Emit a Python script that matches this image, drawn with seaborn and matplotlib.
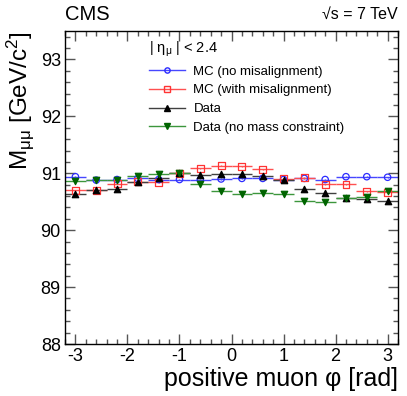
import numpy as np
import pandas as pd
import matplotlib
matplotlib.use('Agg')
import matplotlib.pyplot as plt
from matplotlib.lines import Line2D
from matplotlib.ticker import MultipleLocator
import seaborn as sns

# bin centres in phi (bins of 0.4 rad)
phi = [-3.0, -2.6, -2.2, -1.8, -1.4, -1.0, -0.6, -0.2,
       0.2, 0.6, 1.0, 1.4, 1.8, 2.2, 2.6, 3.0]
half_width = 0.2

mc_nomis = [90.94, 90.88, 90.89, 90.91, 90.89, 90.89, 90.89, 90.90,
            90.91, 90.91, 90.89, 90.91, 90.89, 90.94, 90.94, 90.93]
mc_mis = [90.70, 90.70, 90.82, 90.85, 90.84, 91.00, 91.09, 91.13,
          91.12, 91.07, 90.90, 90.92, 90.81, 90.81, 90.68, 90.67]
data = [90.63, 90.71, 90.73, 90.85, 90.91, 91.00, 90.97, 90.98,
        90.98, 90.96, 90.88, 90.72, 90.65, 90.57, 90.55, 90.51]
data_nomc = [90.87, 90.89, 90.88, 90.95, 90.99, 91.01, 90.82, 90.69,
             90.64, 90.66, 90.63, 90.51, 90.49, 90.56, 90.59, 90.68]

mc_err = 0.01
data_err = 0.02
data_nomc_err = 0.03

series = [
    ('MC (no misalignment)', mc_nomis, mc_err, '#4747ff', 'o', 'none', '#2b2bff', 4.6),
    ('MC (with misalignment)', mc_mis, mc_err, '#ff5050', 's', 'none', '#ff3333', 5.0),
    ('Data', data, data_err, '#404040', '^', '#000000', '#000000', 4.6),
    ('Data (no mass constraint)', data_nomc, data_nomc_err, '#3c963c', 'v', '#006400', '#006400', 4.6),
]

plt.rcParams['font.family'] = ['Liberation Sans', 'DejaVu Sans']
plt.rcParams['mathtext.fontset'] = 'custom'
plt.rcParams['mathtext.rm'] = 'Liberation Sans'
plt.rcParams['mathtext.it'] = 'Liberation Sans'
plt.rcParams['mathtext.sf'] = 'Liberation Sans'
plt.rcParams['axes.unicode_minus'] = False

fig = plt.figure(figsize=(4.07, 3.96), dpi=100)
ax = fig.add_axes([0.1597, 0.1313, 0.8182, 0.7904])

handles = []
for label, vals, err, lcol, mk, face, edge, ms in series:
    df = pd.DataFrame({'phi': phi, 'mass': vals})
    ax.errorbar(df['phi'], df['mass'], xerr=half_width, yerr=err, fmt='none',
                ecolor=lcol, elinewidth=1.0, capsize=0)
    sns.scatterplot(data=df, x='phi', y='mass', ax=ax, marker=mk, s=ms ** 2,
                    facecolors=face, edgecolors=edge, linewidths=0.9,
                    legend=False, zorder=3)
    handles.append(Line2D([], [], color=lcol, lw=1.0, marker=mk, markersize=3.8,
                          markerfacecolor=face, markeredgecolor=edge, label=label))

ax.set_xlim(-3.2, 3.2)
ax.set_ylim(88, 93.5)
ax.xaxis.set_major_locator(MultipleLocator(1))
ax.xaxis.set_minor_locator(MultipleLocator(0.2))
ax.yaxis.set_major_locator(MultipleLocator(1))
ax.yaxis.set_minor_locator(MultipleLocator(0.2))
ax.tick_params(which='both', direction='in', top=True, right=True, labelsize=13, pad=3)
ax.tick_params(which='major', length=7, width=1.0, color='#555555')
ax.tick_params(which='minor', length=3.5, width=1.0, color='#555555')
for sp in ax.spines.values():
    sp.set_linewidth(1.0)

ax.set_xlabel('positive muon \u03c6 [rad]', fontsize=18, loc='right', labelpad=1)
ax.set_ylabel(r'M$_{\mu\mu}$ [GeV/c$^{2}$]', fontsize=17.5, loc='top', labelpad=3)

leg = ax.legend(handles=handles, loc='upper left', bbox_to_anchor=(0.235, 0.99),
                frameon=False, fontsize=9.5, handlelength=2.8, handletextpad=0.6,
                labelspacing=0.5, title='| \u03b7$_{\mu}$ | < 2.4', title_fontsize=10.5,
                alignment='left', borderaxespad=0)

fig.text(0.16, 0.963, 'CMS', fontsize=14.5, ha='left', va='center')
fig.text(0.978, 0.963, '\u221as = 7 TeV', fontsize=11.5, ha='right', va='center')

fig.savefig('out.png', dpi=100)
